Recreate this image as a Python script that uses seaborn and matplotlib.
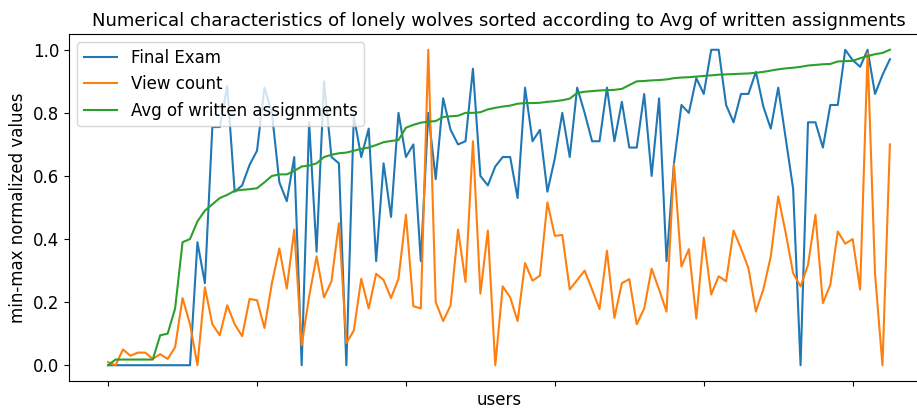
import numpy as np
import pandas as pd
import matplotlib
matplotlib.use("Agg")
import matplotlib.pyplot as plt
import seaborn as sns

plt.rcParams["font.size"] = 12

# values (min-max normalized, users sorted by avg of written assignments)
final_exam = [
    0, 0, 0, 0, 0, 0, 0, 0, 0, 0, 0, 0,
    0.39, 0.26, 0.755, 0.755, 0.885, 0.55, 0.57, 0.635, 0.68, 0.88,
    0.80, 0.58, 0.52, 0.66, 0.0, 0.77, 0.36, 0.90, 0.66, 0.64,
    0.0, 0.79, 0.66, 0.75, 0.33, 0.64, 0.47, 0.80, 0.66, 0.70,
    0.33, 0.80, 0.59, 0.846, 0.746, 0.70, 0.71, 0.94, 0.60, 0.57,
    0.63, 0.66, 0.66, 0.53, 0.88, 0.71, 0.746, 0.55, 0.656, 0.80,
    0.66, 0.88, 0.80, 0.71, 0.71, 0.88, 0.71, 0.835, 0.69, 0.69,
    0.86, 0.60, 0.846, 0.33, 0.64, 0.825, 0.80, 0.91, 0.86, 1.0,
    1.0, 0.825, 0.77, 0.86, 0.86, 0.93, 0.82, 0.75, 0.88, 0.72,
    0.56, 0.0, 0.77, 0.77, 0.69, 0.825, 0.825, 1.0, 0.967, 0.946,
    1.0, 0.86, 0.92, 0.97,
]
view_count = [
    0.01, 0.0, 0.05, 0.03, 0.04, 0.04, 0.02, 0.035, 0.02, 0.057,
    0.213, 0.13, 0.0, 0.247, 0.13, 0.095, 0.19, 0.13, 0.092, 0.21,
    0.206, 0.118, 0.26, 0.37, 0.243, 0.43, 0.063, 0.218, 0.345, 0.215,
    0.266, 0.45, 0.07, 0.11, 0.274, 0.18, 0.29, 0.27, 0.213, 0.274,
    0.477, 0.187, 0.18, 1.0, 0.20, 0.14, 0.19, 0.43, 0.264, 0.71,
    0.227, 0.427, 0.0, 0.25, 0.215, 0.14, 0.324, 0.268, 0.284, 0.516,
    0.41, 0.413, 0.24, 0.27, 0.30, 0.24, 0.178, 0.363, 0.15, 0.26,
    0.273, 0.13, 0.18, 0.306, 0.24, 0.17, 0.638, 0.313, 0.368, 0.148,
    0.405, 0.224, 0.282, 0.266, 0.427, 0.37, 0.308, 0.17, 0.24, 0.345,
    0.535, 0.42, 0.292, 0.25, 0.318, 0.477, 0.197, 0.255, 0.424, 0.385,
    0.40, 0.24, 0.99, 0.29, 0.0, 0.70,
]
avg_written = [
    0.0, 0.018, 0.018, 0.018, 0.018, 0.018, 0.018, 0.095, 0.10, 0.18,
    0.39, 0.40, 0.456, 0.49, 0.51, 0.53, 0.54, 0.553, 0.556, 0.558,
    0.561, 0.58, 0.60, 0.605, 0.605, 0.616, 0.63, 0.633, 0.64, 0.66,
    0.667, 0.672, 0.674, 0.68, 0.686, 0.69, 0.698, 0.707, 0.711, 0.714,
    0.753, 0.762, 0.769, 0.772, 0.774, 0.787, 0.789, 0.791, 0.80, 0.80,
    0.802, 0.811, 0.816, 0.82, 0.823, 0.829, 0.831, 0.831, 0.832, 0.835,
    0.837, 0.84, 0.845, 0.863, 0.867, 0.869, 0.871, 0.872, 0.873, 0.876,
    0.888, 0.90, 0.901, 0.903, 0.904, 0.906, 0.91, 0.912, 0.913, 0.915,
    0.917, 0.919, 0.921, 0.922, 0.923, 0.924, 0.925, 0.927, 0.93, 0.934,
    0.938, 0.941, 0.943, 0.946, 0.95, 0.952, 0.954, 0.955, 0.963, 0.964,
    0.965, 0.973, 0.98, 0.986, 0.99, 1.0,
]

df = pd.DataFrame({
    "Final Exam": final_exam,
    "View count": view_count,
    "Avg of written assignments": avg_written,
})
df.index.name = "users"

fig = plt.figure(figsize=(9.17, 4.08), dpi=100)
# axes runs past the right edge, like the cropped original
ax = fig.add_axes([69 / 917, 27 / 408, 860 / 917, 347 / 408])

sns.lineplot(data=df, dashes=False, palette=["tab:blue", "tab:orange", "tab:green"], ax=ax)
sns.move_legend(ax, "upper left")

ax.set_xticks(range(0, 101, 20))
ax.tick_params(axis="x", labelbottom=False)
ax.set_xlabel("users")
ax.set_ylabel("min-max normalized values")
ax.set_title("Numerical characteristics of lonely wolves sorted according to Avg of written assignments",
             fontsize=13)

fig.savefig("out.png", dpi=100)
